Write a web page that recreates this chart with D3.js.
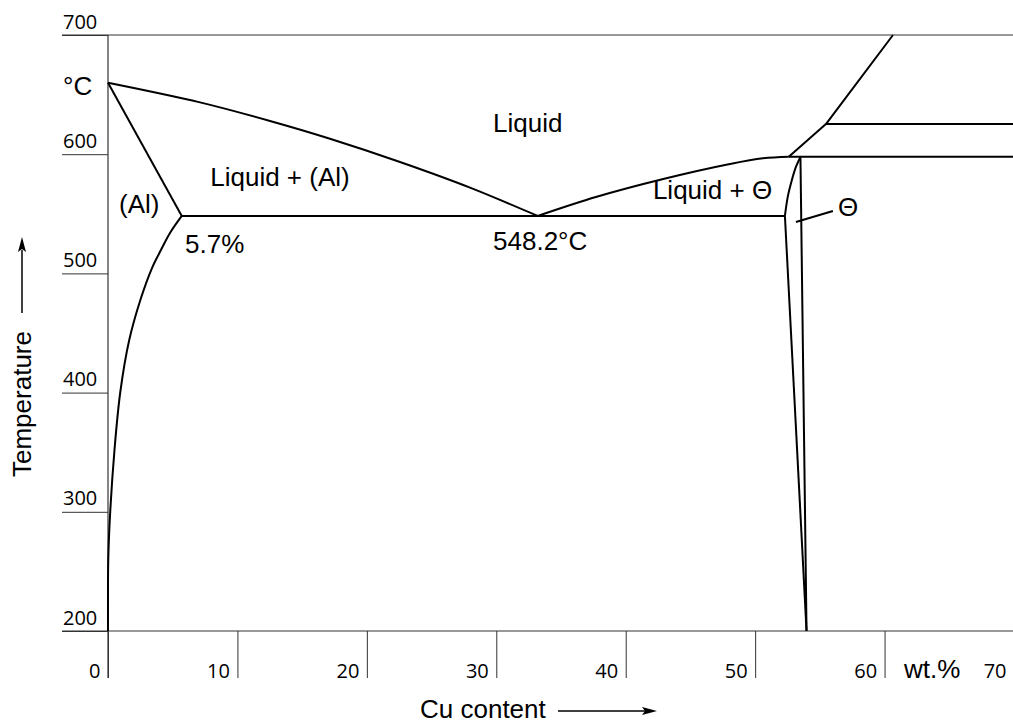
<!DOCTYPE html>
<html>
<head>
<meta charset="utf-8">
<script src="https://cdn.jsdelivr.net/npm/d3@7"></script>
<style>
  body { margin: 0; background: #fff; }
  text { font-family: "Liberation Sans", Arial, sans-serif; fill: #000; }
  .tick text { font-family: "Open Sans", sans-serif; }
</style>
</head>
<body>
<div id="chart"></div>
<script>
// Al-Cu phase diagram, values in wt.% Cu and °C
let xTicks = [0, 10, 20, 30, 40, 50, 60, 70];
let yTicks = [200, 300, 400, 500, 600, 700];

let liquidusAl = [[0, 660], [7.11, 643.5], [12.52, 627.9], [17.15, 613], [22.56, 593.5], [27.97, 572], [33.2, 548.2]];
let solidusAl = [[0, 660], [5.7, 548.2]];
let solvusAl = [[5.7, 548.2], [4.79, 533.9], [4.09, 519.6], [3.4, 504.5], [2.5, 477.7], [1.64, 444.1],
                [0.95, 400.5], [0.5, 351.8], [0.17, 299.8], [0.02, 259.6], [0, 226], [0, 200]];
let eutecticLine = [[5.7, 548.2], [52.3, 548.2]];
let liquidusTheta = [[33.2, 548.2], [37.76, 564.3], [42.9, 579.2], [48.05, 591.8], [50.6, 596.6], [52.6, 597.9]];
let thetaLeftUpper = [[52.3, 548.2], [52.53, 564.8], [52.84, 578.4], [53.15, 589.3], [53.5, 597.7]];
let thetaLeftLower = [[52.3, 548.2], [53.97, 200]];
let thetaRight = [[53.5, 597.7], [53.97, 200]];
let diagonalLine = [[52.6, 597.9], [55.47, 625.3], [60.65, 700]];
let upperHorizontal = [[55.47, 625.3], [70, 625.3]];
let lowerHorizontal = [[52.6, 597.9], [70, 597.9]];
let thetaPointer = [[53.15, 543.1], [56.01, 552.3]];

let regionLabels = [
  { text: "Liquid", x: 29.75, t: 618.6 },
  { text: "Liquid + (Al)", x: 7.9, t: 573 },
  { text: "(Al)", x: 0.85, t: 551 },
  { text: "5.7%", x: 5.95, t: 517 },
  { text: "548.2°C", x: 29.75, t: 520 },
  { text: "Liquid + Θ", x: 42.1, t: 562 },
  { text: "Θ", x: 56.4, t: 548 }
];

let width = 1013, height = 724;

let svg = d3.select("#chart").append("svg")
  .attr("width", width)
  .attr("height", height);

let x = d3.scaleLinear().domain([0, 70]).range([108, 1014]);
let y = d3.scaleLinear().domain([200, 700]).range([631, 35]);

// frame lines (top and bottom extend past the left axis)
let frame = svg.append("g").attr("stroke", "#333").attr("stroke-width", 1.2);
frame.append("line").attr("x1", 62).attr("x2", width).attr("y1", y(700)).attr("y2", y(700));
frame.append("line").attr("x1", 62).attr("x2", width).attr("y1", y(200)).attr("y2", y(200));
frame.append("line").attr("x1", x(0)).attr("x2", x(0)).attr("y1", y(700)).attr("y2", 678);

// y axis: tick lines to the left, labels sitting on top of them
let yAxis = svg.append("g")
  .attr("transform", `translate(${x(0)},0)`)
  .call(d3.axisLeft(y).tickValues(yTicks).tickSize(46).tickSizeOuter(0));
yAxis.select(".domain").remove();
yAxis.selectAll(".tick line").attr("stroke", "#333");
yAxis.selectAll(".tick text")
  .attr("x", -45).attr("dy", -7)
  .attr("text-anchor", "start")
  .attr("font-size", 20);

// x axis: tick lines downwards, labels to the left of them
let xAxis = svg.append("g")
  .attr("transform", `translate(0,${y(200)})`)
  .call(d3.axisBottom(x).tickValues(xTicks).tickSize(47).tickSizeOuter(0));
xAxis.select(".domain").remove();
xAxis.selectAll(".tick line").attr("stroke", "#333");
xAxis.selectAll(".tick text")
  .attr("x", -8).attr("y", 47).attr("dy", 0)
  .attr("text-anchor", "end")
  .attr("font-size", 20);

// phase boundaries
let straight = d3.line().x((d) => x(d[0])).y((d) => y(d[1]));
let smooth = d3.line().x((d) => x(d[0])).y((d) => y(d[1])).curve(d3.curveCatmullRom.alpha(0.5));

let lines = svg.append("g")
  .attr("fill", "none")
  .attr("stroke", "#000")
  .attr("stroke-width", 2)
  .attr("stroke-linejoin", "round");

[liquidusAl, liquidusTheta, solvusAl, thetaLeftUpper].forEach((d) =>
  lines.append("path").attr("d", smooth(d))
);
[solidusAl, eutecticLine, thetaLeftLower, thetaRight, diagonalLine,
 upperHorizontal, lowerHorizontal, thetaPointer].forEach((d) =>
  lines.append("path").attr("d", straight(d))
);

// region labels
svg.append("g")
  .selectAll("text")
  .data(regionLabels)
  .enter()
  .append("text")
  .attr("x", (d) => x(d.x))
  .attr("y", (d) => y(d.t))
  .attr("font-size", 26)
  .text((d) => d.text);

// unit and axis titles
svg.append("text").attr("x", 63).attr("y", 95).attr("font-size", 26).text("°C");
svg.append("text").attr("x", 904).attr("y", 678).attr("font-size", 26).text("wt.%");

svg.append("text")
  .attr("transform", "translate(31,477) rotate(-90)")
  .attr("font-size", 26)
  .text("Temperature");
svg.append("text")
  .attr("x", 420).attr("y", 718)
  .attr("font-size", 26)
  .text("Cu content");

// arrows next to the axis titles
let arrows = svg.append("g");
arrows.append("line").attr("x1", 22).attr("x2", 22).attr("y1", 313).attr("y2", 250)
  .attr("stroke", "#000").attr("stroke-width", 1.5);
arrows.append("path").attr("d", "M22,237 L18,252 L22,249 L26,252 Z").attr("fill", "#000");
arrows.append("line").attr("x1", 558).attr("x2", 645).attr("y1", 711).attr("y2", 711)
  .attr("stroke", "#000").attr("stroke-width", 1.5);
arrows.append("path").attr("d", "M657,711 L642,707 L645,711 L642,715 Z").attr("fill", "#000");
</script>
</body>
</html>
